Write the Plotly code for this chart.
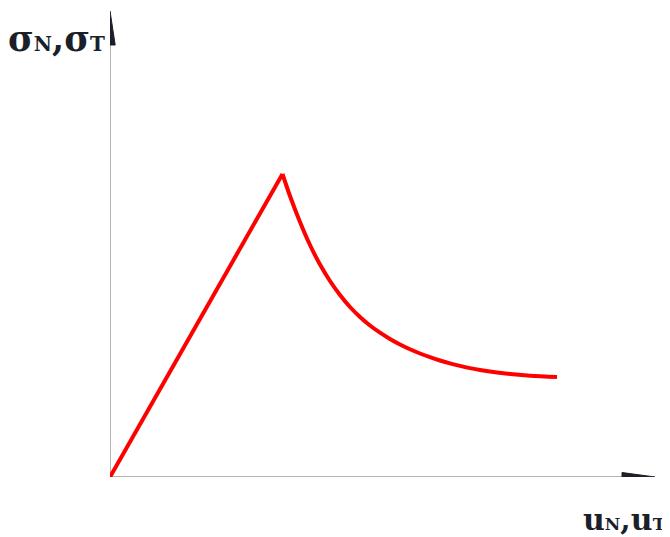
import plotly.graph_objects as go

# Curve data (arbitrary units: separation u vs traction sigma)
u_rise = [0.0, 1.725]
sigma_rise = [0.0, 3.03]
u_decay = [1.725, 1.80, 1.90, 2.00, 2.10, 2.20, 2.30, 2.40, 2.50, 2.60, 2.70, 2.80, 2.90,
           3.00, 3.10, 3.20, 3.30, 3.40, 3.50, 3.60, 3.70, 3.87, 4.03, 4.20, 4.47]
sigma_decay = [3.03, 2.81, 2.55, 2.32, 2.125, 1.96, 1.82, 1.70, 1.60, 1.515, 1.443, 1.38, 1.325,
               1.277, 1.235, 1.198, 1.165, 1.136, 1.111, 1.089, 1.07, 1.045, 1.027, 1.013, 1.00]

x_axis_end = 5.13   # end of x axis line (arrow base)
x_arrow_tip = 5.45
y_axis_end = 4.33
y_arrow_tip = 4.66

y_label = "<b>σ<span style='font-size:20px'>N</span>,σ<span style='font-size:20px'>T</span></b>"
x_label = "<b>u<span style='font-size:17px'>N</span>,u<span style='font-size:17px'>T</span></b>"

fig = go.Figure()

fig.add_trace(go.Scatter(x=u_rise, y=sigma_rise, mode="lines",
                         line=dict(color="#ff0000", width=4), hoverinfo="skip"))
fig.add_trace(go.Scatter(x=u_decay, y=sigma_decay, mode="lines",
                         line=dict(color="#ff0000", width=4, shape="spline", smoothing=1.0),
                         hoverinfo="skip"))

shapes = [
    dict(type="line", xref="x", yref="y", x0=0, y0=0, x1=x_axis_end, y1=0,
         line=dict(color="#9a9a9a", width=1.5), layer="below"),
    dict(type="line", xref="x", yref="y", x0=0, y0=0, x1=0, y1=y_axis_end,
         line=dict(color="#9a9a9a", width=1.5), layer="below"),
    dict(type="path", xref="x", yref="y",
         path=f"M {x_axis_end-0.01},-0.045 L {x_arrow_tip},0 L {x_axis_end-0.01},0.045 Z",
         fillcolor="#1c1f2a", line=dict(color="#1c1f2a", width=1)),
    dict(type="path", xref="x", yref="y",
         path=f"M -0.052,{y_axis_end-0.01} L 0,{y_arrow_tip} L 0.052,{y_axis_end-0.01} Z",
         fillcolor="#1c1f2a", line=dict(color="#1c1f2a", width=1)),
]

# plot area spans figure x 102..652 and y 2..469 (page adds 8px body margin)
annotations = [
    dict(text=y_label, xref="paper", yref="paper", x=-0.097, y=0.94,
         xanchor="center", yanchor="middle", showarrow=False,
         font=dict(family="DejaVu Serif", size=35, color="#1c1f2a")),
    dict(text=x_label, xref="paper", yref="paper", x=0.935, y=-0.092,
         xanchor="center", yanchor="middle", showarrow=False,
         font=dict(family="DejaVu Serif", size=30, color="#1c1f2a")),
]

fig.update_layout(
    width=662, height=529,
    margin=dict(l=102, r=10, t=2, b=60),
    paper_bgcolor="white", plot_bgcolor="white",
    showlegend=False,
    shapes=shapes, annotations=annotations,
    xaxis=dict(range=[0, 5.5], visible=False, fixedrange=True),
    yaxis=dict(range=[0, 4.67], visible=False, fixedrange=True),
)

fig.write_html("out.html")
